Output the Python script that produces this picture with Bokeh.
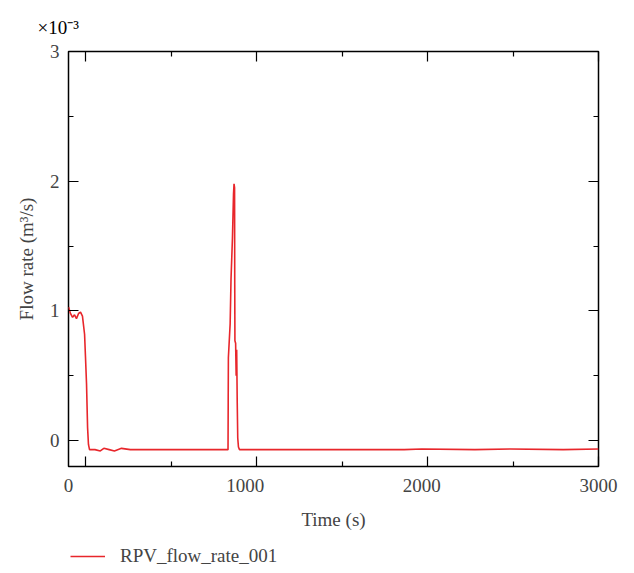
from bokeh.plotting import figure
from bokeh.layouts import column
from bokeh.models import Range1d, LinearAxis, FixedTicker, Title, Legend, LegendItem
from bokeh.embed import file_html
from bokeh.resources import INLINE

# Data (flow rate in units of 1e-3 m^3/s)
time_s = [0, 11, 23, 34, 45, 57, 68, 79, 91, 96, 102, 108, 113, 119, 150, 180, 200,
          230, 260, 300, 350, 500, 700, 850, 903, 904, 905, 915, 920, 928, 934, 937,
          940, 941, 942, 946, 949, 952, 955, 958, 962, 968, 1000, 1500, 1900, 2000,
          2300, 2500, 2800, 3000]
flow = [1.03, 0.98, 0.95, 0.97, 0.94, 0.98, 0.99, 0.96, 0.82, 0.65, 0.44, 0.10, -0.03,
        -0.07, -0.07, -0.08, -0.06, -0.07, -0.08, -0.06, -0.07, -0.07, -0.07, -0.07,
        -0.07, 0.30, 0.64, 0.90, 1.25, 1.56, 1.90, 1.98, 1.95, 1.20, 0.77, 0.75, 0.50,
        0.70, 0.30, 0.02, -0.05, -0.07, -0.07, -0.07, -0.07, -0.065, -0.07, -0.065,
        -0.07, -0.065]

x_labels = [0, 1000, 2000, 3000]
x_major = [0, 1000, 2000, 3000]
x_minor = [500, 1500, 2500]
y_major = [0, 1, 2, 3]
y_minor = [0.5, 1.5, 2.5]

FONT = "Liberation Serif"
RED = "#e8262b"
FS = "19px"

p = figure(width=620, height=535, x_range=Range1d(0, 3000), y_range=Range1d(-0.2, 3),
           output_backend="svg", toolbar_location=None,
           x_axis_type=None, y_axis_type=None,
           min_border_left=68, min_border_right=22, min_border_top=50,
           min_border_bottom=69)
p.extra_x_ranges = {"marks": Range1d(-100, 3000)}
p.xgrid.visible = False
p.ygrid.visible = False
p.outline_line_color = "black"
p.outline_line_width = 1.5
p.background_fill_color = "white"
p.border_fill_color = "white"


def mark_axis(ticks, length, range_name="default"):
    """Axis that draws only inward tick marks (as label-free minor ticks)."""
    ax = LinearAxis(x_range_name=range_name, ticker=FixedTicker(ticks=[], minor_ticks=ticks))
    ax.minor_tick_in = length
    ax.minor_tick_out = 0
    ax.major_tick_in = 0
    ax.major_tick_out = 0
    ax.minor_tick_line_color = "black"
    ax.minor_tick_line_width = 1.2
    ax.axis_line_color = None
    ax.major_label_standoff = 0
    return ax


# left axis with labels
left = LinearAxis(ticker=FixedTicker(ticks=y_major, minor_ticks=y_minor))
left.major_tick_in = 10
left.major_tick_out = 0
left.minor_tick_in = 5
left.minor_tick_out = 0
left.major_tick_line_color = "black"
left.minor_tick_line_color = "black"
left.major_tick_line_width = 1.2
left.minor_tick_line_width = 1.2
left.axis_line_color = None
left.major_label_text_font = FONT
left.major_label_text_font_size = FS
left.major_label_standoff = 9
left.axis_label = "Flow rate (m³/s)"
left.axis_label_text_font = FONT
left.axis_label_text_font_size = FS
left.axis_label_text_font_style = "normal"
left.axis_label_standoff = 10
p.add_layout(left, "left")

# right, bottom and top: tick marks only
p.add_layout(mark_axis(y_major, 10), "right")
p.add_layout(mark_axis(y_minor, 5), "right")
p.add_layout(mark_axis(x_major, 10, "marks"), "below")
p.add_layout(mark_axis(x_minor, 5, "marks"), "below")
p.add_layout(mark_axis(x_major, 10, "marks"), "above")
p.add_layout(mark_axis(x_minor, 5, "marks"), "above")

# bottom labels
blabels = LinearAxis(ticker=FixedTicker(ticks=x_labels))
blabels.major_tick_line_color = None
blabels.minor_tick_line_color = None
blabels.axis_line_color = None
blabels.major_tick_in = 0
blabels.major_tick_out = 0
blabels.minor_tick_in = 0
blabels.minor_tick_out = 0
blabels.major_label_text_font = FONT
blabels.major_label_text_font_size = FS
blabels.major_label_standoff = 12
blabels.axis_label = "Time (s)"
blabels.axis_label_text_font = FONT
blabels.axis_label_text_font_size = FS
blabels.axis_label_text_font_style = "normal"
blabels.axis_label_standoff = 14
p.add_layout(blabels, "below")

p.line(time_s, flow, line_color=RED, line_width=1.6)

exp_title = Title(text="×10⁻³", align="left", offset=-31, text_font=FONT,
                  text_font_size=FS, text_font_style="normal", text_color="black",
                  standoff=28)
p.add_layout(exp_title, "above")

# legend strip below the chart
lg = figure(width=620, height=38, x_range=Range1d(0, 3000), y_range=Range1d(-0.2, 3),
            output_backend="svg", toolbar_location=None,
            x_axis_type=None, y_axis_type=None, min_border=0)
lg.xgrid.visible = False
lg.ygrid.visible = False
lg.outline_line_color = None
lg.border_fill_color = "white"
lr = lg.line(time_s, flow, line_color=RED, line_width=1.6)
lr.visible = False
legend = Legend(items=[LegendItem(label="RPV_flow_rate_001", renderers=[lr])],
                location=(2, 6), orientation="horizontal",
                glyph_width=35, label_standoff=15, padding=0, margin=0,
                border_line_color=None, background_fill_alpha=0,
                inactive_fill_alpha=0,
                label_text_font=FONT, label_text_font_size=FS)
lg.add_layout(legend, "center")

layout = column(p, lg, spacing=0)
open("out.html", "w").write(file_html(layout, INLINE))
